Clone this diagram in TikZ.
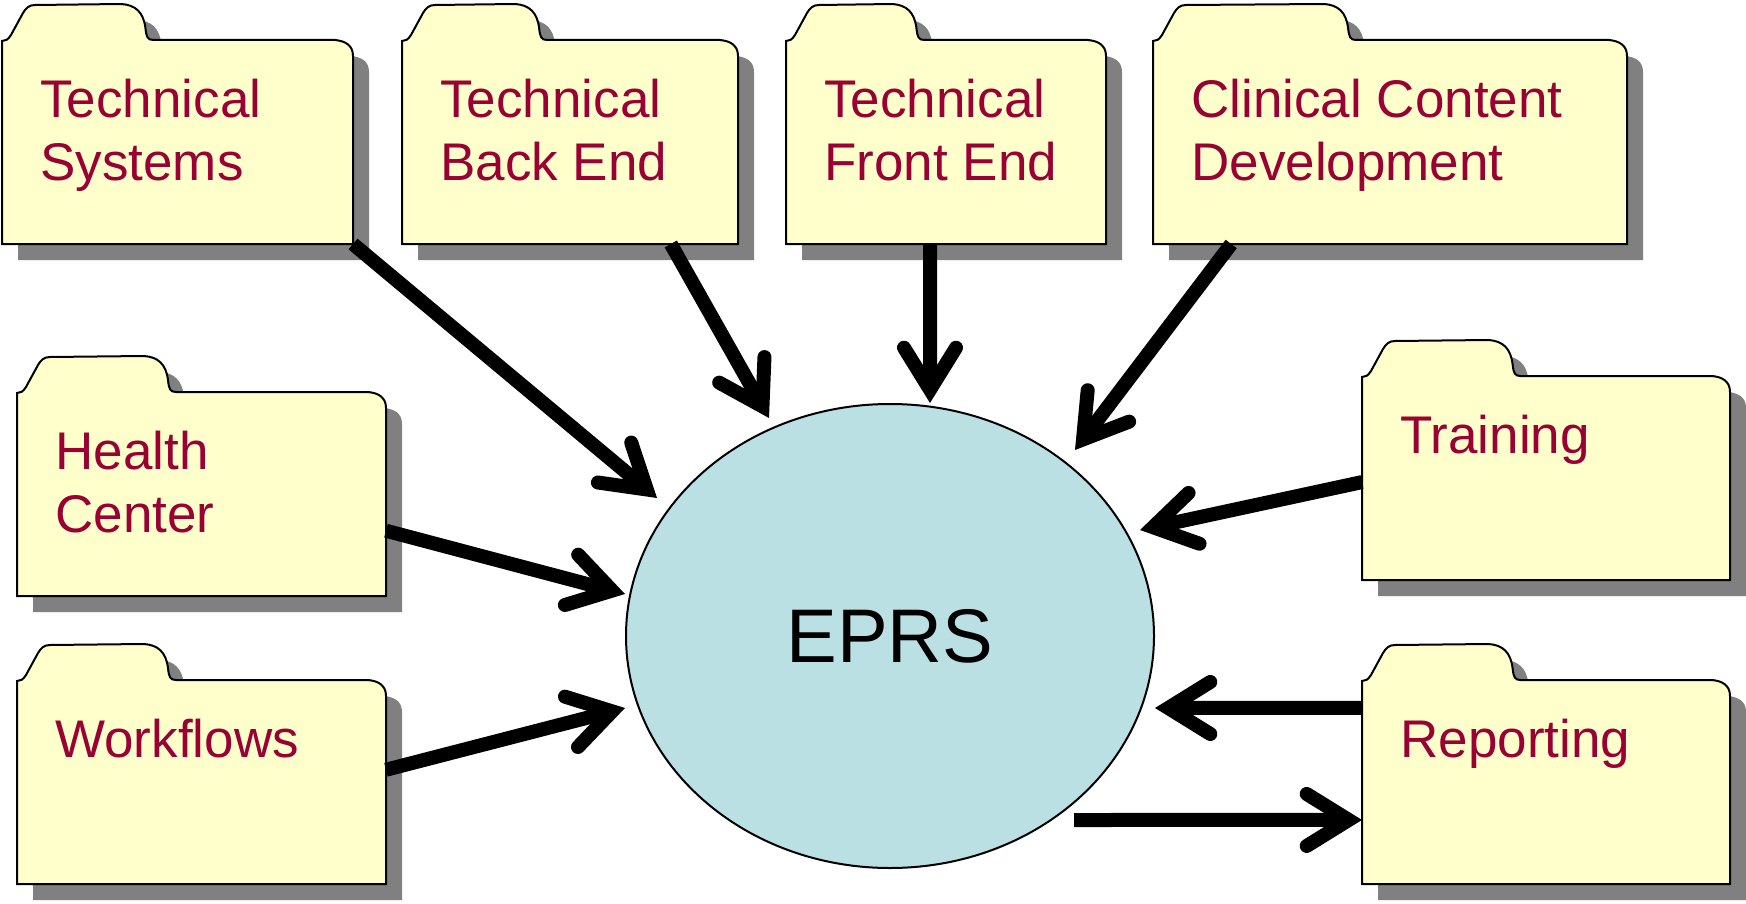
\documentclass[tikz,border=0pt]{standalone}
\usepackage{fontspec}
\setmainfont{Liberation Sans}
\usetikzlibrary{arrows.meta}
\usetikzlibrary{calc}
\usetikzlibrary{positioning}
\usetikzlibrary{shapes.geometric}

\definecolor{folderfill}{HTML}{FFFFCC}
\definecolor{foldershadow}{HTML}{808080}
\definecolor{labelred}{HTML}{990033}
\definecolor{eprsblue}{HTML}{BBE0E3}

\newcommand{\folderpath}[1]{(0,1) .. controls (3,1) and (6,0) .. (9,-5) -- (21,-27) .. controls (24,-32) and (27,-35) .. (33,-35) -- (\tabw-28,-36) .. controls (\tabw-14,-35) and (\tabw-6,-28) .. (\tabw-4,-12) .. controls (\tabw-3,-3) and (\tabw-2,0) .. (\tabw+4,0) -- (#1-18,0) .. controls (#1-8,1) and (#1,5) .. (#1,16) -- (#1,204) -- (0,204) -- cycle}

% folder: name, x, y (top of body), width, label
\newcommand{\folder}[5]{%
  \pgfmathsetmacro{\tabw}{0.42*#4}
  \begin{scope}[shift={(#2,#3)}]
    \fill[foldershadow,shift={(16,16)}] \folderpath{#4};
    \draw[folder] \folderpath{#4};
    \node[fbody, minimum width=#4*0.5pt, minimum height=102pt] (#1) at (0,0) {};
    \node[flabel] (#1-text) at (38,39) {#5};
  \end{scope}
}

\begin{document}
\begin{tikzpicture}[
  x=0.5pt, y=-0.5pt,
  folder/.style = {draw=black, line width=1pt, fill=folderfill},
  fbody/.style = {anchor=north west, inner sep=0pt, outer sep=0pt},
  flabel/.style = {anchor=north west, inner sep=0pt, align=left, text=labelred, font=\fontsize{26.5}{31.5}\selectfont},
  eprsnode/.style = {ellipse, draw, line width=1pt, fill=eprsblue, inner sep=0pt, minimum width=264pt, minimum height=232pt, font=\fontsize{38}{45}\selectfont},
  arr/.style = {line width=7pt, -{Straight Barb[length=21pt,width=26pt,line cap=round,line join=miter]}}
  ]
  \useasboundingbox (0,0) rectangle (1746,904);

  \node[eprsnode] (eprs) at (890,636) {EPRS};

  \folder{ts}{2}{40}{351}{Technical\\Systems}
  \folder{tbe}{402}{40}{336}{Technical\\Back End}
  \folder{tfe}{786}{40}{320}{Technical\\Front End}
  \folder{ccd}{1153}{40}{474}{Clinical Content\\Development}
  \folder{hc}{17}{392}{369}{Health\\Center}
  \folder{wf}{17}{680}{369}{Workflows}
  \folder{tr}{1362}{376}{368}{Training}
  \folder{rep}{1362}{680}{368}{Reporting}

  \coordinate (in-ts) at (657,498);
  \coordinate (in-tbe) at (769,418);
  \coordinate (in-tfe) at (930,403);
  \coordinate (in-ccd) at (1075,450);
  \coordinate (in-hc) at (625,594);
  \coordinate (in-wf) at (625,708);
  \coordinate (in-tr) at (1140,530);
  \coordinate (in-rep) at (1155,708);
  \coordinate (out-rep) at (1074,820);

  \draw[arr] (ts.south east) -- (in-ts);
  \draw[arr] ($(tbe.south west)!0.8!(tbe.south east)$) -- (in-tbe);
  \draw[arr] ($(tfe.south west)!0.45!(tfe.south east)$) -- (in-tfe);
  \draw[arr] ($(ccd.south west)!0.165!(ccd.south east)$) -- (in-ccd);
  \draw[arr] ($(hc.north east)!0.68!(hc.south east)$) -- (in-hc);
  \draw[arr] ($(wf.north east)!0.44!(wf.south east)$) -- (in-wf);
  \draw[arr] ($(tr.north west)!0.52!(tr.south west)$) -- (in-tr);
  \draw[arr] ($(rep.north west)!0.137!(rep.south west)$) -- (in-rep);
  \draw[arr] (out-rep) -- ($(rep.north west)!0.686!(rep.south west)$);
\end{tikzpicture}
\end{document}
